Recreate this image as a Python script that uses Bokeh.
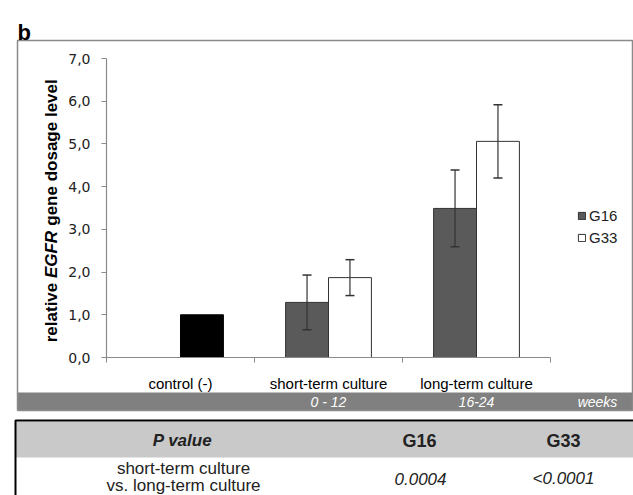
from math import pi
from bokeh.plotting import figure
from bokeh.models import (Range1d, FixedTicker, ColumnDataSource, Whisker, TeeHead,
                          Legend, LegendItem)
from bokeh.core.properties import value
from bokeh.embed import file_html
from bokeh.resources import INLINE

# ---------------- data ----------------
categories = ["control (-)", "short-term culture", "long-term culture"]
week_labels = ["", "0 - 12", "16-24"]
control_value = [1.0]
g16_mean = [1.29, 3.49]      # short-term, long-term
g16_err = [0.64, 0.90]
g33_mean = [1.87, 5.06]
g33_err = [0.42, 0.86]
y_ticks = [0, 1, 2, 3, 4, 5, 6, 7]
y_tick_labels = ["0,0", "1,0", "2,0", "3,0", "4,0", "5,0", "6,0", "7,0"]
table_header = ["P value", "G16", "G33"]
table_row_label = ["short-term culture", "vs. long-term culture"]
table_p_g16 = "0.0004"
table_p_g33 = "<0.0001"

# ---------------- styles / picture geometry ----------------
FONT = "Liberation Sans"
TICKFONT = "DejaVu Sans"
C16 = "#5a5a5a"
EDGE = "#333333"
AXC = "#8a8a8a"
BAND = "#808080"
HEAD = "#c9c9c9"
TXT = "#222222"
OFF = 0.145
BW = 0.29

W, H = 633, 495
AX_LEFT, AX_TOP, AX_BOT = 106, 58, 357      # pixel positions of x=0, y=7, y=0
PX_PER_CAT = 148.0
Y_MAX = 7.0
PX_PER_Y = (AX_BOT - AX_TOP) / Y_MAX

x_range = Range1d(-AX_LEFT / PX_PER_CAT, (W - AX_LEFT) / PX_PER_CAT)
y_range = Range1d(-(H - AX_BOT) / PX_PER_Y, Y_MAX + AX_TOP / PX_PER_Y)

p = figure(width=W, height=H, output_backend="svg", toolbar_location=None, title=None,
           x_range=x_range, y_range=y_range, min_border=0)
p.extra_x_ranges = {"px": Range1d(0, W)}
p.extra_y_ranges = {"px": Range1d(H, 0)}
p.outline_line_color = None
p.grid.visible = False
p.background_fill_color = "white"
p.border_fill_color = "white"

PX = dict(x_range_name="px", y_range_name="px")

# ---------------- decorations (drawn first, underneath) ----------------
# chart box and weeks band
p.quad(left=[17], right=[632], top=[392], bottom=[410], fill_color=BAND,
       line_color=None, **PX)
p.line(x=[17, 17, 632, 632, 17], y=[410, 40, 40, 410, 410], line_color=AXC,
       line_width=1.5, **PX)
# table
p.quad(left=[15], right=[640], top=[421], bottom=[457], fill_color=HEAD,
       line_color=None, **PX)
p.line(x=[15, 15, 640], y=[H + 5, 420, 420], line_color="black", line_width=2, **PX)

# ---------------- bars ----------------
series_cats = [1, 2]
src16 = ColumnDataSource(dict(
    x=[i + 0.5 - OFF for i in series_cats], top=g16_mean,
    upper=[m + e for m, e in zip(g16_mean, g16_err)],
    lower=[m - e for m, e in zip(g16_mean, g16_err)]))
src33 = ColumnDataSource(dict(
    x=[i + 0.5 + OFF for i in series_cats], top=g33_mean,
    upper=[m + e for m, e in zip(g33_mean, g33_err)],
    lower=[m - e for m, e in zip(g33_mean, g33_err)]))
srcc = ColumnDataSource(dict(x=[0 + 0.5 + OFF], top=control_value))

p.vbar(x="x", top="top", width=BW, source=srcc, fill_color="black",
       line_color="black", line_width=1)
r16 = p.vbar(x="x", top="top", width=BW, source=src16, fill_color=C16,
             line_color=EDGE, line_width=1)
r33 = p.vbar(x="x", top="top", width=BW, source=src33, fill_color="white",
             line_color=EDGE, line_width=1)

for s in (src16, src33):
    w = Whisker(base="x", upper="upper", lower="lower", source=s, level="annotation",
                line_color=EDGE, line_width=1.2,
                upper_head=TeeHead(size=9, line_color=EDGE, line_width=1.5),
                lower_head=TeeHead(size=9, line_color=EDGE, line_width=1.5))
    p.add_layout(w)

# ---------------- axes (fixed at the origin, inside the canvas) ----------------
n = len(categories)
ya = p.yaxis[0]
ya.fixed_location = 0
ya.bounds = (0, Y_MAX)
ya.ticker = FixedTicker(ticks=y_ticks)
ya.major_label_overrides = {t: l for t, l in zip(y_ticks, y_tick_labels)}
ya.axis_line_color = AXC
ya.axis_line_width = 1.2
ya.major_tick_line_color = AXC
ya.major_tick_out = 5
ya.major_tick_in = 0
ya.minor_tick_line_color = None
ya.major_label_text_font = TICKFONT
ya.major_label_text_font_size = "14px"
ya.major_label_text_color = TXT
ya.major_label_standoff = 11

xa = p.xaxis[0]
centers = [i + 0.5 for i in range(n)]
xa.fixed_location = 0
xa.bounds = (0, n)
xa.ticker = FixedTicker(ticks=centers, minor_ticks=list(range(n + 1)))
xa.major_label_overrides = {c: l for c, l in zip(centers, categories)}
xa.axis_line_color = AXC
xa.axis_line_width = 1.2
xa.major_tick_line_color = None
xa.major_tick_out = 0
xa.major_tick_in = 0
xa.minor_tick_line_color = AXC
xa.minor_tick_out = 5
xa.minor_tick_in = 0
xa.major_label_text_font = FONT
xa.major_label_text_font_size = "15px"
xa.major_label_text_color = "black"
xa.major_label_standoff = 12

# ---------------- legend ----------------
legend = Legend(items=[LegendItem(label="G16", renderers=[r16]),
                       LegendItem(label="G33", renderers=[r33])],
                location=(577, H - 246), glyph_width=9, glyph_height=9,
                label_standoff=3, spacing=5, padding=0, margin=0,
                border_line_color=None, background_fill_alpha=0,
                label_text_font=FONT, label_text_font_size="15px",
                label_text_color=TXT)
p.add_layout(legend)

# ---------------- texts ----------------
p.text(x=[17], y=[32], text=["b"], text_font=value(FONT), text_font_style="bold",
       text_font_size="22px", text_align="left", text_baseline="alphabetic",
       text_color="black", **PX)

ytitle = [("relative", "bold", 312), ("EGFR", "bold italic", 254),
          ("gene dosage level", "bold", 152)]
for txt, style, ypos in ytitle:
    p.text(x=[51], y=[ypos], text=[txt], angle=pi / 2, text_font=value(FONT),
           text_font_style=style, text_font_size="17px", text_align="center",
           text_baseline="middle", text_color="black", **PX)

wk_x = [c for c, wl in zip(centers, week_labels) if wl]
wk_t = [wl for wl in week_labels if wl]
p.text(x=wk_x, y=[401] * len(wk_t), text=wk_t, y_range_name="px",
       text_font=value(FONT), text_font_style="italic", text_font_size="14px",
       text_color="white", text_align="center", text_baseline="middle")
p.text(x=[597], y=[401], text=["weeks"], text_font=value(FONT),
       text_font_style="italic", text_font_size="14px", text_color="white",
       text_align="center", text_baseline="middle", **PX)

p.text(x=[182], y=[440], text=[table_header[0]], text_font=value(FONT),
       text_font_style="bold italic", text_font_size="17px", text_color=TXT,
       text_align="center", text_baseline="middle", **PX)
p.text(x=[419, 563], y=[440, 440], text=table_header[1:], text_font=value(FONT),
       text_font_style="bold", text_font_size="18px", text_color=TXT,
       text_align="center", text_baseline="middle", **PX)
p.text(x=[183, 183], y=[468, 485], text=table_row_label, text_font=value(FONT),
       text_font_size="17px", text_color=TXT, text_align="center",
       text_baseline="middle", **PX)
p.text(x=[420, 563], y=[478, 478], text=[table_p_g16, table_p_g33],
       text_font=value(FONT), text_font_style="italic", text_font_size="17px",
       text_color=TXT, text_align="center", text_baseline="middle", **PX)

open("out.html", "w").write(file_html(p, INLINE))
